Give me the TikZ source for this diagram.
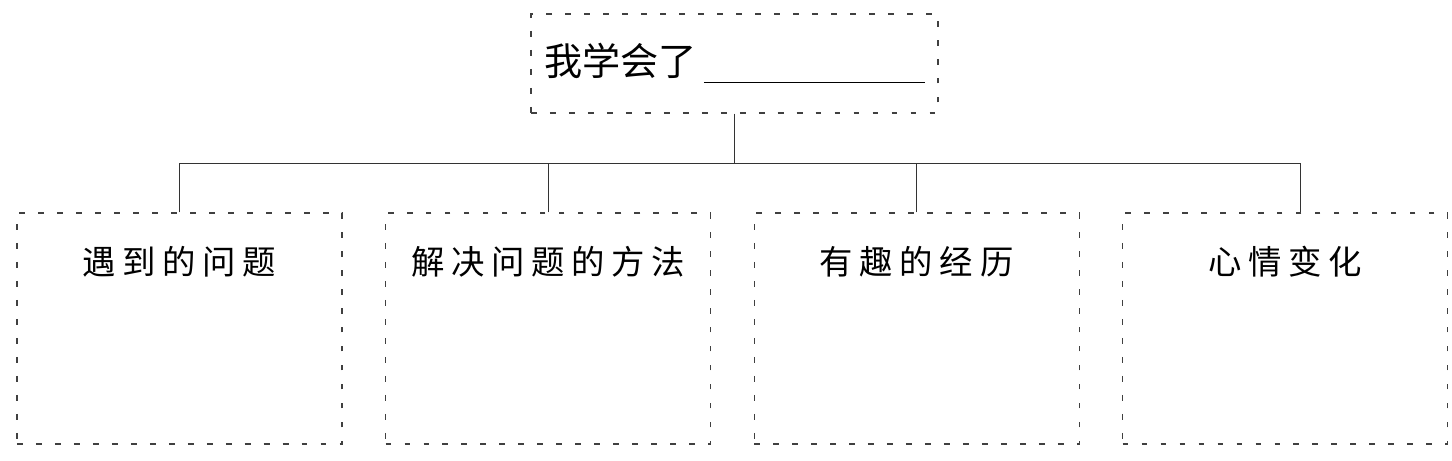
\documentclass[tikz,border=0pt]{standalone}
\usepackage{fontspec}
\setmainfont{Noto Sans CJK SC}
\usetikzlibrary{positioning}

\begin{document}
\begin{tikzpicture}[
  topbox/.style={draw=black!75, dash pattern=on 3.3pt off 7.5pt, line width=0.6pt, minimum width=8.14cm, minimum height=1.98cm, inner sep=0pt, font=\fontsize{21.7pt}{26pt}\selectfont},
  itembox/.style={draw=black!75, dash pattern=on 3.3pt off 7.5pt, line width=0.6pt, minimum width=6.5cm, minimum height=4.62cm, inner sep=0pt},
  title/.style={font=\fontsize{19pt}{23pt}\selectfont\addfontfeature{LetterSpace=20}, inner sep=0pt},
  conn/.style={line width=0.6pt, black!80}
]
\useasboundingbox (0,0) rectangle (29.04,-9.2);

\node[topbox] (top) at (14.69,-1.27) {我学会了\hspace{0.14cm}\rule[-0.15cm]{4.42cm}{0.6pt}};

\node[itembox] (b1) at (3.59,-6.57) {};
\node[itembox, right=0.85cm of b1] (b2) {};
\node[itembox, right=0.85cm of b2] (b3) {};
\node[itembox, right=0.85cm of b3] (b4) {};

\node[title] (t1) at ([yshift=-0.98cm]b1.north) {遇到的问题};
\node[title] (t2) at ([yshift=-0.98cm]b2.north) {解决问题的方法};
\node[title] (t3) at ([yshift=-0.98cm]b3.north) {有趣的经历};
\node[title] (t4) at ([yshift=-0.98cm]b4.north) {心情变化};

\draw[conn] (top.south) -- ++(0,-1) coordinate (hub);
\draw[conn] (b1.north) |- (hub) -| ([xshift=0.3cm]b4.north);
\draw[conn] (b2.north) -- (b2.north |- hub);
\draw[conn] (b3.north) -- (b3.north |- hub);
\end{tikzpicture}
\end{document}
